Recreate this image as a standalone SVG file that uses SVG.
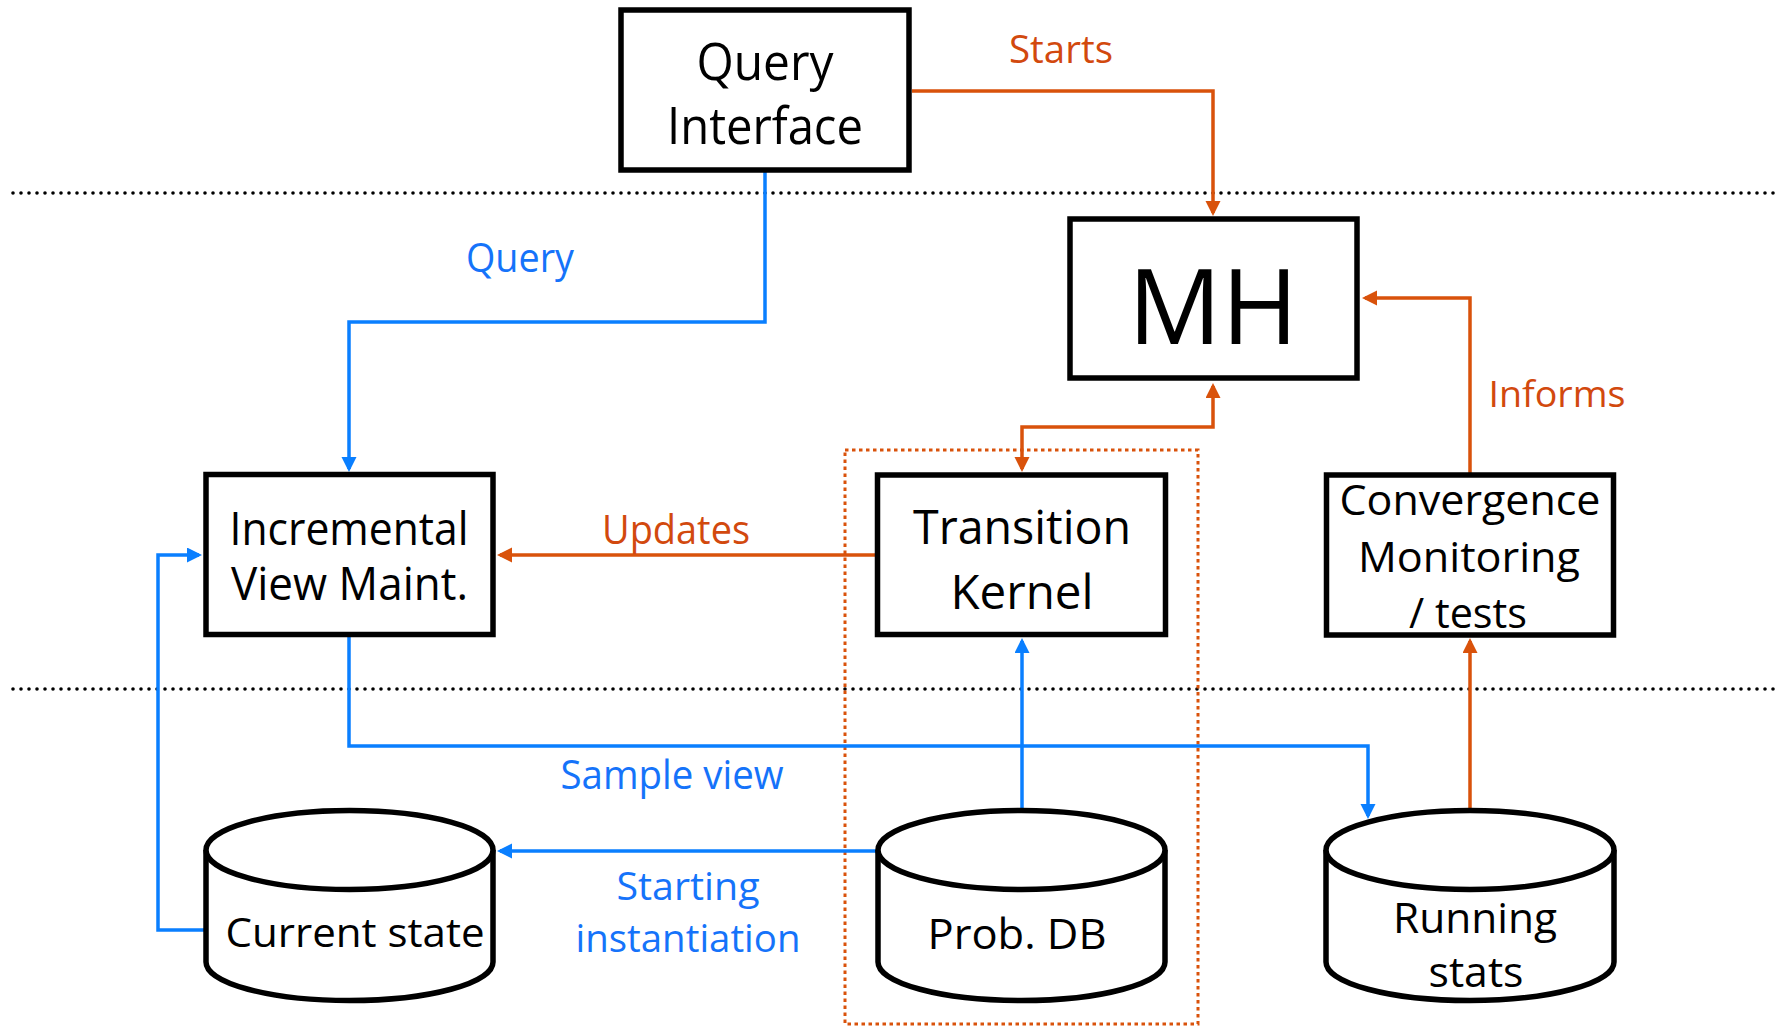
<svg xmlns="http://www.w3.org/2000/svg" width="1777" height="1026" viewBox="0 0 1777 1026">
<style>
  text { font-family: "Open Sans", "Noto Sans", "DejaVu Sans", sans-serif; text-anchor: middle; }
  .box { fill: #ffffff; stroke: #000000; stroke-width: 5.5; }
  .cyl { fill: #ffffff; stroke: #000000; stroke-width: 5.5; }
  .lbl { fill: #000000; }
  .blue { fill: none; stroke: #0A7FFF; stroke-width: 3.5; }
  .orange { fill: none; stroke: #D9520B; stroke-width: 3.5; }
  .tblue { fill: #1573FA; }
  .torange { fill: #D2490E; }
  .sep { fill: none; stroke: #000000; stroke-width: 3.6; stroke-linecap: round; stroke-dasharray: 0 8; }
  .group { fill: none; stroke: #D9520B; stroke-width: 3; stroke-dasharray: 3.5 3.5; }
</style>
<defs>
  <marker id="ab" markerUnits="userSpaceOnUse" markerWidth="16" markerHeight="16" refX="12" refY="7.5" orient="auto-start-reverse">
    <path d="M0,0 L15,7.5 L0,15 z" fill="#0A7FFF"/>
  </marker>
  <marker id="ao" markerUnits="userSpaceOnUse" markerWidth="16" markerHeight="16" refX="12" refY="7.5" orient="auto-start-reverse">
    <path d="M0,0 L15,7.5 L0,15 z" fill="#D9520B"/>
  </marker>
</defs>

<g id="separators">
  <line class="sep" x1="13" y1="193" x2="1777" y2="193"/>
  <line class="sep" x1="13" y1="689" x2="1777" y2="689"/>
</g>

<rect id="mcmc-group" class="group" x="845" y="450" width="353" height="574"/>

<g id="connectors">
  <path class="orange" d="M912,91 H1213 V213" marker-end="url(#ao)"/>
  <text class="torange" x="1061" y="63" font-size="38" textLength="104" lengthAdjust="spacingAndGlyphs">Starts</text>

  <path class="blue" d="M765,172 V322 H349 V469" marker-end="url(#ab)"/>
  <text class="tblue" x="520" y="272" font-size="40" textLength="108" lengthAdjust="spacingAndGlyphs">Query</text>

  <path class="orange" d="M1022,469 V427 H1213 V386" marker-start="url(#ao)" marker-end="url(#ao)"/>

  <path class="orange" d="M1470,473 V298 H1365" marker-end="url(#ao)"/>
  <text class="torange" x="1557" y="407" font-size="37" textLength="137" lengthAdjust="spacingAndGlyphs">Informs</text>

  <path class="orange" d="M876,555 H500" marker-end="url(#ao)"/>
  <text class="torange" x="676" y="544" font-size="40" textLength="148" lengthAdjust="spacingAndGlyphs">Updates</text>

  <path class="blue" d="M349,637 V746 H1368 V816" marker-end="url(#ab)"/>
  <text class="tblue" x="672" y="789" font-size="40" textLength="223" lengthAdjust="spacingAndGlyphs">Sample view</text>

  <path class="blue" d="M1022,810 V641" marker-end="url(#ab)"/>

  <path class="blue" d="M878,851 H500" marker-end="url(#ab)"/>
  <text class="tblue" x="688" y="900" font-size="38" textLength="143" lengthAdjust="spacingAndGlyphs">Starting</text>
  <text class="tblue" x="688" y="952" font-size="38" textLength="225" lengthAdjust="spacingAndGlyphs">instantiation</text>

  <path class="orange" d="M1470,810 V641" marker-end="url(#ao)"/>

  <path class="blue" d="M206,930 H158 V555 H199" marker-end="url(#ab)"/>
</g>

<g id="query-interface">
  <rect class="box" x="621" y="10" width="288" height="160"/>
  <text class="lbl" x="765" y="80" font-size="52" textLength="137" lengthAdjust="spacingAndGlyphs">Query</text>
  <text class="lbl" x="765" y="144" font-size="52" textLength="196" lengthAdjust="spacingAndGlyphs">Interface</text>
</g>

<g id="mh">
  <rect class="box" x="1070" y="219" width="287" height="159"/>
  <text class="lbl" x="1213" y="344" font-size="104">MH</text>
</g>

<g id="incremental-view-maint">
  <rect class="box" x="206" y="474.5" width="287" height="160"/>
  <text class="lbl" x="349" y="545" font-size="45" textLength="239" lengthAdjust="spacingAndGlyphs">Incremental</text>
  <text class="lbl" x="349.5" y="600" font-size="45" textLength="237" lengthAdjust="spacingAndGlyphs">View Maint.</text>
</g>

<g id="transition-kernel">
  <rect class="box" x="877.5" y="475" width="288" height="159.5"/>
  <text class="lbl" x="1022" y="544" font-size="48" textLength="218" lengthAdjust="spacingAndGlyphs">Transition</text>
  <text class="lbl" x="1022" y="609" font-size="48" textLength="143" lengthAdjust="spacingAndGlyphs">Kernel</text>
</g>

<g id="convergence-monitoring">
  <rect class="box" x="1326.5" y="475" width="287" height="160"/>
  <text class="lbl" x="1470" y="515" font-size="42" textLength="261" lengthAdjust="spacingAndGlyphs">Convergence</text>
  <text class="lbl" x="1469" y="572" font-size="42" textLength="222" lengthAdjust="spacingAndGlyphs">Monitoring</text>
  <text class="lbl" x="1468" y="628" font-size="42" textLength="118" lengthAdjust="spacingAndGlyphs">/ tests</text>
</g>

<g id="current-state">
  <path class="cyl" d="M206,850 V962 A143.5,38.5 0 0 0 493,962 V850"/>
  <ellipse class="cyl" cx="349.5" cy="850" rx="143.5" ry="39.5"/>
  <text class="lbl" x="355" y="947" font-size="40" textLength="259" lengthAdjust="spacingAndGlyphs">Current state</text>
</g>

<g id="prob-db">
  <path class="cyl" d="M878,850 V962 A143.5,38.5 0 0 0 1165,962 V850"/>
  <ellipse class="cyl" cx="1021.5" cy="850" rx="143.5" ry="39.5"/>
  <text class="lbl" x="1017" y="949" font-size="42" textLength="179" lengthAdjust="spacingAndGlyphs">Prob. DB</text>
</g>

<g id="running-stats">
  <path class="cyl" d="M1326,850 V962 A144,38.5 0 0 0 1614,962 V850"/>
  <ellipse class="cyl" cx="1470" cy="850" rx="144" ry="39.5"/>
  <text class="lbl" x="1475" y="933" font-size="42" textLength="164" lengthAdjust="spacingAndGlyphs">Running</text>
  <text class="lbl" x="1476" y="987" font-size="42" textLength="95" lengthAdjust="spacingAndGlyphs">stats</text>
</g>
</svg>
